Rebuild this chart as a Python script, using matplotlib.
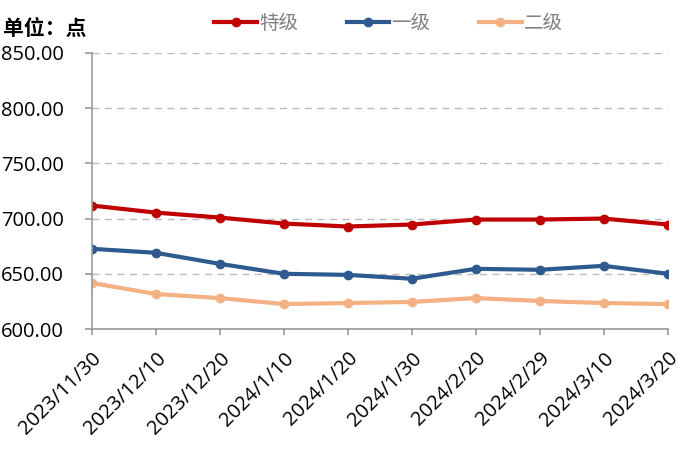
import matplotlib.pyplot as plt

plt.rcParams["font.family"] = ["Open Sans", "Noto Sans CJK SC", "DejaVu Sans"]

dates = ["2023/11/30", "2023/12/10", "2023/12/20", "2024/1/10", "2024/1/20",
         "2024/1/30", "2024/2/20", "2024/2/29", "2024/3/10", "2024/3/20"]
grade_special = [711.8, 705.4, 700.9, 695.5, 692.8, 694.6, 699.1, 699.1, 700.0, 694.6]
grade_one = [672.6, 669.0, 659.0, 650.0, 649.0, 645.5, 654.5, 653.6, 657.2, 650.0]
grade_two = [641.7, 631.7, 628.0, 622.6, 623.5, 624.5, 628.0, 625.4, 623.5, 622.6]

series = [
    ("特级", grade_special, "#C00000"),
    ("一级", grade_one, "#2E5A8F"),
    ("二级", grade_two, "#F4B183"),
]

fig = plt.figure(figsize=(7, 4.68), dpi=100)
ax = fig.add_axes([0.131, 0.297, 0.823, 0.59])

x = list(range(len(dates)))
for name, vals, color in series:
    ax.plot(x, vals, color=color, linewidth=3, marker="o", markersize=6, label=name)

ax.set_xlim(0, len(dates) - 1)
ax.set_ylim(600, 850)
ax.set_yticks(range(600, 851, 50))
ax.set_yticklabels([f"{v:.2f}" for v in range(600, 851, 50)], fontsize=14.5)
ax.set_xticks(x)
ax.set_xticklabels(dates, rotation=45, ha="right", rotation_mode="anchor", fontsize=14.5)
ax.tick_params(axis="x", length=4, width=1.2, color="#999999", pad=10)
ax.tick_params(axis="y", length=5, width=1.2, color="#999999", pad=15)

ax.grid(axis="y", linestyle=(0, (5, 4)), color="#BBBBBB", linewidth=1)
for side in ["top", "right"]:
    ax.spines[side].set_visible(False)
ax.spines["left"].set_color("#999999")
ax.spines["left"].set_linewidth(1.2)
ax.spines["bottom"].set_color("#999999")
ax.spines["bottom"].set_linewidth(1.2)
ax.set_axisbelow(True)

fig.text(0.005, 0.925, "单位：点", fontsize=15, fontweight="bold",
         family=["Noto Sans CJK SC", "DejaVu Sans"])

leg = fig.legend(loc="upper center", bbox_to_anchor=(0.555, 1.01), ncol=3, frameon=False,
                 prop={"family": ["Noto Sans CJK SC", "DejaVu Sans"], "size": 14},
                 handlelength=2.2, columnspacing=2.5, handletextpad=0.1)
for t in leg.get_texts():
    t.set_color("#808080")

fig.savefig("out.png", dpi=100)
